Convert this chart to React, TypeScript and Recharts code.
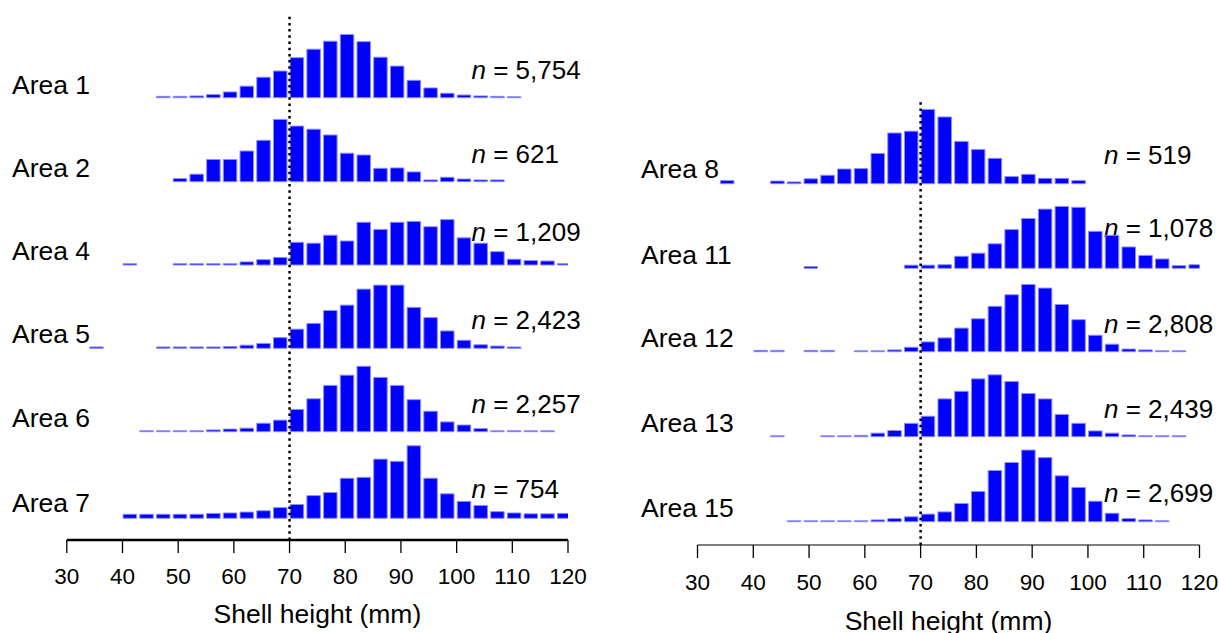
import React from 'react';
import { ComposedChart, Bar, XAxis, YAxis, ReferenceLine, Customized } from 'recharts';

// Histogram bins: 3 mm wide, left edges (mm)
const binStarts = [34, 37, 40, 43, 46, 49, 52, 55, 58, 61, 64, 67, 70, 73, 76, 79, 82, 85, 88, 91, 94, 97, 100, 103, 106, 109, 112, 115, 118];
const xTicks = [30, 40, 50, 60, 70, 80, 90, 100, 110, 120];
const refLength = 70;

// Relative frequency (%) per bin, aligned with binStarts (null = no bar)
const area1 = [null, null, null, null, 0.3, 0.3, 0.4, 0.7, 1.3, 2.6, 4.6, 6.0, 9.0, 10.9, 12.7, 14.2, 12.6, 9.1, 7.1, 3.9, 2.2, 1.0, 0.6, 0.4, 0.3, 0.2, null, null, null];
const area2 = [null, null, null, null, null, 0.7, 1.7, 5.0, 5.0, 6.9, 9.3, 14.0, 12.5, 11.8, 10.5, 6.4, 6.0, 3.0, 3.1, 2.2, 0.4, 1.0, 0.6, 0.4, 0.4, null, null, null, null];
const area4 = [null, null, 0.3, 0, 0, 0.3, 0.3, 0.3, 0.3, 0.7, 1.2, 1.7, 5.1, 4.9, 6.7, 5.4, 9.6, 8.0, 9.6, 9.8, 8.6, 10.2, 6.1, 4.9, 3.0, 1.3, 1.0, 0.9, 0.3];
const area5 = [0.3, 0, 0, 0, 0.3, 0.3, 0.3, 0.3, 0.4, 0.7, 1.1, 2.4, 4.3, 5.6, 8.5, 9.7, 13.3, 14.2, 14.2, 9.2, 6.9, 3.9, 1.8, 0.8, 0.5, 0.3, null, null, null];
const area6 = [null, null, null, 0.2, 0.2, 0.2, 0.2, 0.4, 0.6, 0.8, 1.9, 2.6, 5.0, 7.4, 10.4, 12.7, 14.7, 12.2, 10.4, 7.2, 4.6, 2.2, 1.5, 0.7, 0.2, 0.2, 0.2, 0.2, null];
const area7 = [null, null, 0.9, 0.9, 0.9, 0.9, 0.9, 1.1, 1.2, 1.4, 1.7, 2.4, 3.1, 5.1, 5.8, 9.0, 9.2, 13.3, 12.8, 16.3, 9.0, 5.5, 3.8, 2.9, 1.5, 1.2, 1.0, 1.0, 1.1];
const area8 = [0.7, 0, 0, 0.6, 0.4, 1.1, 1.9, 3.3, 3.4, 6.8, 11.4, 11.8, 16.7, 15.0, 9.5, 7.7, 5.7, 1.6, 2.1, 1.2, 1.2, 0.7, null, null, null, null, null, null, null];
const area11 = [null, null, null, null, null, 0.4, 0, 0, 0, 0, 0, 0.7, 0.7, 0.8, 2.7, 3.4, 5.5, 8.7, 11.2, 13.3, 13.9, 13.7, 8.3, 7.4, 4.8, 2.9, 2.1, 0.6, 0.8];
const area12 = [null, null, 0.3, 0.3, 0, 0.3, 0.3, 0, 0.2, 0.2, 0.4, 1.0, 2.2, 3.1, 5.3, 7.4, 10.2, 12.8, 15.1, 14.3, 10.6, 7.2, 3.7, 1.7, 0.6, 0.4, 0.2, 0.2, null];
const area13 = [null, null, null, 0.2, 0, 0, 0.2, 0.2, 0.3, 0.8, 1.4, 3.0, 4.6, 8.5, 10.2, 13.0, 13.9, 12.4, 9.7, 8.5, 5.0, 3.0, 1.3, 0.8, 0.4, 0.2, 0.2, 0.2, null];
const area15 = [null, null, null, null, 0.2, 0.2, 0.2, 0.2, 0.2, 0.4, 0.7, 1.1, 1.7, 2.2, 4.1, 6.8, 11.5, 13.3, 16.1, 14.4, 10.3, 7.7, 4.6, 1.9, 0.7, 0.4, 0.2, null, null];

const leftNames = ['Area 1', 'Area 2', 'Area 4', 'Area 5', 'Area 6', 'Area 7'];
const leftCounts = ['5,754', '621', '1,209', '2,423', '2,257', '754'];
const leftSeries = [area1, area2, area4, area5, area6, area7];

const rightNames = ['Area 8', 'Area 11', 'Area 12', 'Area 13', 'Area 15'];
const rightCounts = ['519', '1,078', '2,808', '2,439', '2,699'];
const rightSeries = [area8, area11, area12, area13, area15];

const xTitle = 'Shell height (mm)';

// ---- layout (pixels) ----
const PX_PER_PCT = 4.45;
const PAGE_H = 633;
const BAR_OFFSET_MM = 1.25; // bars are drawn from the bin's left edge, narrower than the bin
const FONT = '"Liberation Sans", Arial, Helvetica, sans-serif';

const leftLayout = {
  left: 0, width: 610, plotLeft: 66.8, plotRight: 568, plotTop: 15, axisY: 540,
  axisWidth: 2.5, tickMargin: 15, titleY: 623, areaX: 12, nX: 471.5,
  baselines: [97.7, 181.7, 265, 348.3, 431.7, 518.3],
  labelYs: [94, 177, 260, 343.3, 426.7, 511.7],
  nYs: [79, 162.7, 240.7, 329.3, 413.3, 498.3],
};
const rightLayout = {
  left: 610, width: 609, plotLeft: 697.5, plotRight: 1199.5, plotTop: 100, axisY: 545,
  axisWidth: 1.2, tickMargin: 16, titleY: 630, areaX: 641, nX: 1104,
  baselines: [183.7, 268.3, 351.7, 436.7, 521.7],
  labelYs: [178.3, 264, 346.7, 431.7, 516.7],
  nYs: [164, 236.7, 333.3, 418.3, 501.7],
};

type Layout = typeof leftLayout;

function PanelText(props: { names: string[]; counts: string[]; L: Layout }) {
  const { names, counts, L } = props;
  return (
    <g>
      {names.map((nm, k) => (
        <text key={'a' + k} x={L.areaX - L.left} y={L.labelYs[k]} fontSize={26.5} fontFamily={FONT} fill="#000">
          {nm}
        </text>
      ))}
      {counts.map((c, k) => (
        <text key={'n' + k} x={L.nX - L.left} y={L.nYs[k]} fontSize={26} fontFamily={FONT} fill="#000">
          <tspan fontStyle="italic">n</tspan>
          <tspan>{' = ' + c}</tspan>
        </text>
      ))}
      <text
        x={(L.plotLeft + L.plotRight) / 2 - L.left}
        y={L.titleY}
        textAnchor="middle"
        fontSize={26.5}
        fontFamily={FONT}
        fill="#000"
      >
        {xTitle}
      </text>
    </g>
  );
}

function Panel(props: { names: string[]; counts: string[]; series: (number | null)[][]; L: Layout }) {
  const { names, counts, series, L } = props;
  const data = binStarts.map((s, i) => {
    const row: Record<string, number | null> = { x: s + BAR_OFFSET_MM };
    series.forEach((arr, k) => {
      row['a' + k] = arr[i];
    });
    return row;
  });
  return (
    <div style={{ position: 'absolute', left: L.left, top: 0 }}>
      <ComposedChart
        width={L.width}
        height={PAGE_H}
        data={data}
        margin={{ top: L.plotTop, left: L.plotLeft - L.left, right: L.left + L.width - L.plotRight, bottom: 0 }}
        style={{ overflow: 'visible' }}
      >
        {series.map((_, k) => (
          <XAxis
            key={'x' + k}
            xAxisId={'x' + k}
            dataKey="x"
            type="number"
            domain={[30, 120]}
            allowDataOverflow
            hide={k !== 0}
            height={k === 0 ? PAGE_H - L.axisY : 0}
            ticks={xTicks}
            interval={0}
            tickSize={13}
            tickMargin={L.tickMargin}
            axisLine={{ stroke: '#000', strokeWidth: L.axisWidth }}
            tickLine={{ stroke: '#000', strokeWidth: 1.3 }}
            tick={{ fill: '#000', fontSize: 22.5, fontFamily: FONT }}
          />
        ))}
        {series.map((_, k) => {
          const yb = L.baselines[k];
          const lo = -(L.axisY - yb) / PX_PER_PCT;
          const hi = (yb - L.plotTop) / PX_PER_PCT;
          return (
            <YAxis key={'y' + k} yAxisId={'y' + k} type="number" domain={[lo, hi]} allowDataOverflow hide width={0} />
          );
        })}
        {series.map((_, k) => (
          <Bar
            key={'b' + k}
            dataKey={'a' + k}
            xAxisId={'x' + k}
            yAxisId={'y' + k}
            barSize={13.5}
            fill="#0000ff"
            stroke="#8c8cff"
            strokeWidth={1}
            isAnimationActive={false}
          />
        ))}
        <ReferenceLine
          x={refLength}
          xAxisId="x0"
          yAxisId="y0"
          stroke="#000"
          strokeWidth={2.5}
          strokeDasharray="2.5 3.7"
        />
        <Customized component={<PanelText names={names} counts={counts} L={L} />} />
      </ComposedChart>
    </div>
  );
}

export default function App() {
  return (
    <div style={{ position: 'absolute', left: 0, top: 0, width: 1219, height: 633, background: '#fff' }}>
      <Panel names={leftNames} counts={leftCounts} series={leftSeries} L={leftLayout} />
      <Panel names={rightNames} counts={rightCounts} series={rightSeries} L={rightLayout} />
    </div>
  );
}
